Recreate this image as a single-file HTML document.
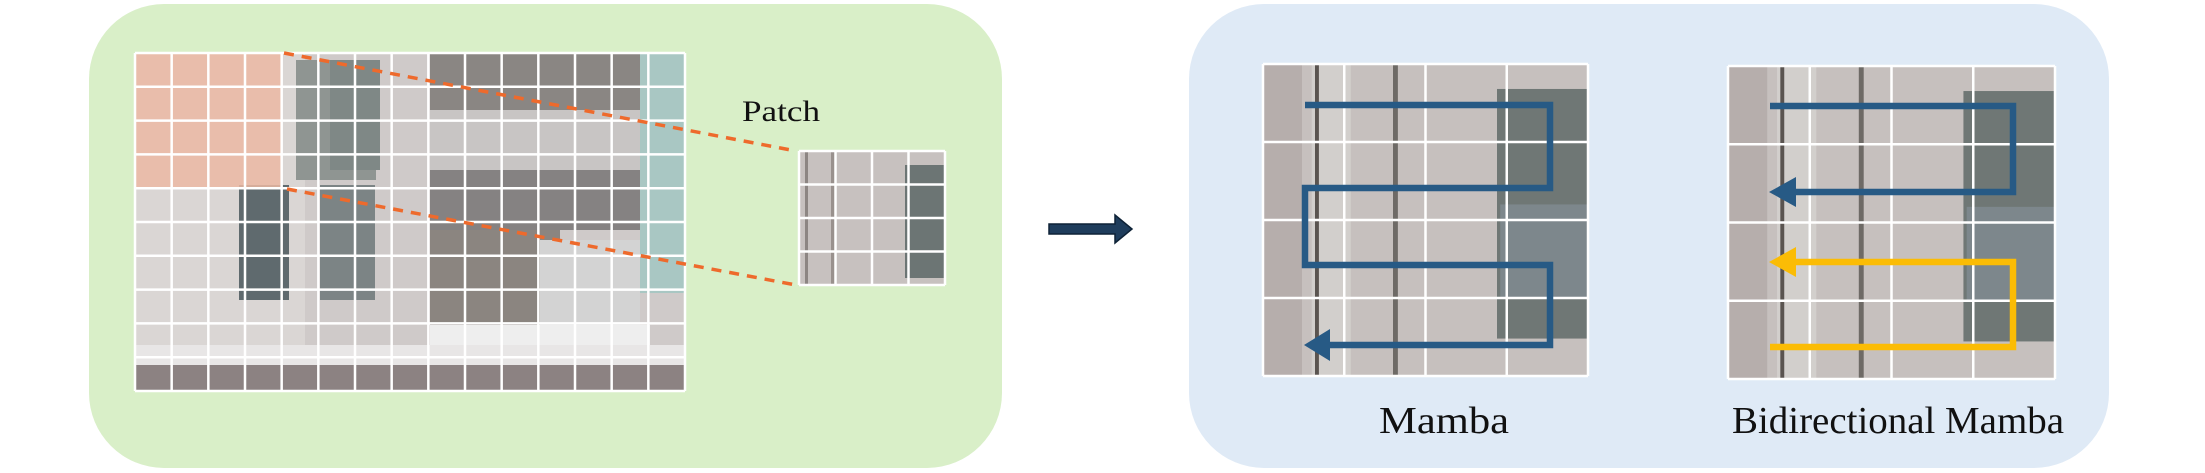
<!DOCTYPE html>
<html><head><meta charset="utf-8"><style>
html,body{margin:0;padding:0;background:#fff;}
svg{display:block;}
text{font-family:"Liberation Serif",serif;fill:#111;}
</style></head><body>
<svg width="2205" height="473" viewBox="0 0 2205 473" xmlns="http://www.w3.org/2000/svg">
<defs>
<clipPath id="imgclip"><rect x="135" y="53" width="550" height="338"/></clipPath>
</defs>
<!-- left panel -->
<rect x="89" y="4" width="913" height="464" rx="75" fill="#d9efc8"/>
<g clip-path="url(#imgclip)">
  <rect x="135" y="53" width="550" height="338" fill="#cfcac9"/>
  <rect x="135" y="53" width="170" height="300" fill="#dad6d4"/>
  <rect x="296" y="60" width="80" height="120" fill="#8f9592"/>
  <rect x="239" y="185" width="50" height="115" fill="#5f6a6e"/>
  <rect x="320" y="185" width="55" height="115" fill="#7c8485"/>
  <rect x="330" y="60" width="50" height="110" fill="#7f8886"/>
  <rect x="430" y="53" width="210" height="105" fill="#8a8683"/>
  <rect x="430" y="110" width="210" height="60" fill="#c8c5c4"/>
  <rect x="430" y="170" width="210" height="60" fill="#858282"/>
  <rect x="430" y="230" width="130" height="95" fill="#8b8580"/>
  <rect x="540" y="240" width="100" height="90" fill="#d3d3d3"/>
  <rect x="430" y="325" width="220" height="20" fill="#eeeeee"/>
  <rect x="640" y="53" width="45" height="240" fill="#a9c7c3"/>
  <rect x="135" y="345" width="550" height="20" fill="#e8e6e6"/>
  <rect x="135" y="365" width="550" height="28" fill="#8c8282"/>
  <rect x="135" y="53" width="147" height="136" fill="#ebb9a3" opacity="0.85"/>
</g>
<g id="biggrid" stroke="#fff" stroke-width="2.5"></g>
<!-- zoomed patch -->
<g>
  <rect x="799" y="151" width="146" height="134" fill="#c7c1bf"/>
  <rect x="805" y="151" width="3" height="134" fill="#8d8683"/>
  <rect x="831" y="151" width="4" height="134" fill="#99918d"/>
  <rect x="905" y="165" width="40" height="113" fill="#6c7574"/>
  <g id="patchgrid" stroke="#fff" stroke-width="2.5"></g>
</g>
<line x1="284" y1="53" x2="796" y2="151" stroke="#ee6a2c" stroke-width="3.5" stroke-dasharray="10,8"/>
<line x1="287" y1="189" x2="796" y2="285" stroke="#ee6a2c" stroke-width="3.5" stroke-dasharray="10,8"/>
<text x="742" y="121" font-size="30" textLength="78" lengthAdjust="spacingAndGlyphs">Patch</text>
<!-- arrow -->
<path d="M1049,224 L1115,224 L1115,215 L1132,229 L1115,243 L1115,234 L1049,234 Z" fill="#1f3d5c" stroke="#0e2236" stroke-width="1.5"/>
<!-- right panel -->
<rect x="1189" y="4" width="920" height="464" rx="75" fill="#dfeaf6"/>
<g id="img1"></g>
<g id="img2"></g>
<g fill="none" stroke="#275a85" stroke-width="6.5">
  <polyline points="1305,105 1550,105 1550,188 1305,188 1305,265 1550,265 1550,345 1320,345"/>
  <polygon points="1304,345 1330,329 1330,361" fill="#275a85" stroke="none"/>
</g>
<g fill="none" stroke="#275a85" stroke-width="6.5">
  <polyline points="1770,106 2013,106 2013,192 1790,192"/>
  <polygon points="1769,192 1796,177 1796,207" fill="#275a85" stroke="none"/>
</g>
<g fill="none" stroke="#fbbc05" stroke-width="6.5">
  <polyline points="1770,347 2013,347 2013,262 1790,262"/>
  <polygon points="1769,262 1796,247 1796,277" fill="#fbbc05" stroke="none"/>
</g>
<text x="1444" y="433" font-size="38" text-anchor="middle" textLength="130" lengthAdjust="spacingAndGlyphs">Mamba</text>
<text x="1732" y="433" font-size="38" textLength="332" lengthAdjust="spacingAndGlyphs">Bidirectional Mamba</text>
</svg>
<script>
var NS='http://www.w3.org/2000/svg';
function ln(g,x1,y1,x2,y2){var l=document.createElementNS(NS,'line');l.setAttribute('x1',x1);l.setAttribute('y1',y1);l.setAttribute('x2',x2);l.setAttribute('y2',y2);


g.appendChild(l);}
function grid(g,x,y,w,h,c,r){for(var i=0;i<=c;i++)ln(g,x+w*i/c,y,x+w*i/c,y+h);for(var j=0;j<=r;j++)ln(g,x,y+h*j/r,x+w,y+h*j/r);}
grid(document.getElementById('biggrid'),135,53,550,338,15,10);
grid(document.getElementById('patchgrid'),799,151,146,134,4,4);
function photo(id,x,y,w,h){var g=document.getElementById(id);
var parts=[[0,0,1,1,'#c6c0be'],[0,0,0.12,1,'#b6aeac'],[0.15,0,0.12,1,'#d2cfcc'],[0.16,0,0.012,1,'#5a5450'],[0.4,0,0.015,1,'#6e6a66'],[0.72,0.08,0.28,0.8,'#6f7775'],[0.73,0.45,0.27,0.3,'#7d878c']];
parts.forEach(function(p){var r=document.createElementNS(NS,'rect');r.setAttribute('x',x+p[0]*w);r.setAttribute('y',y+p[1]*h);r.setAttribute('width',p[2]*w);r.setAttribute('height',p[3]*h);r.setAttribute('fill',p[4]);


g.appendChild(r);});
var gg=document.createElementNS(NS,'g');gg.setAttribute('stroke','#fff');gg.setAttribute('stroke-width','2.5');g.appendChild(gg);grid(gg,x,y,w,h,4,4);}
photo('img1',1263,64,325,312);
photo('img2',1728,66,327,313);
</script>
</body></html>
